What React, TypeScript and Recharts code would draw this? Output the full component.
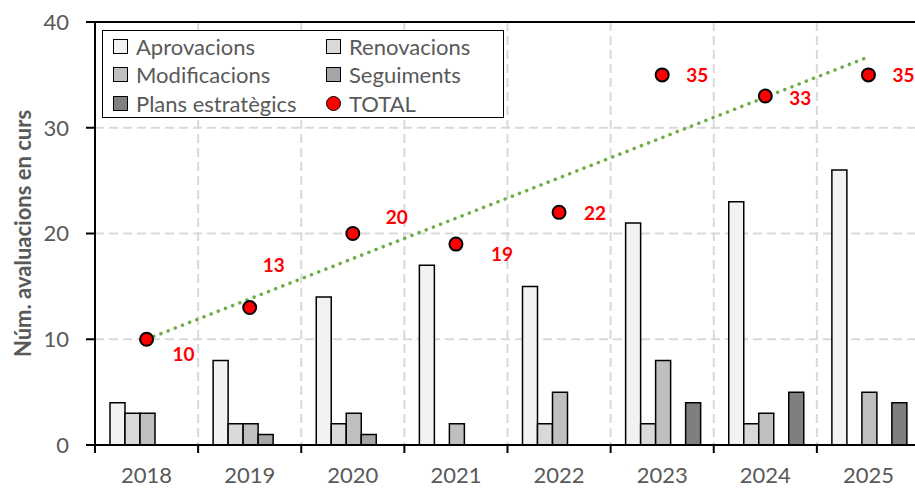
import {
  ComposedChart,
  Bar,
  Line,
  XAxis,
  YAxis,
  CartesianGrid,
  Legend,
  ReferenceLine,
} from 'recharts';

const years = ['2018', '2019', '2020', '2021', '2022', '2023', '2024', '2025'];
const aprovacions = [4, 8, 14, 17, 15, 21, 23, 26];
const renovacions = [3, 2, 2, 0, 2, 2, 2, 0];
const modificacions = [3, 2, 3, 2, 5, 8, 3, 5];
const seguiments = [0, 1, 1, 0, 0, 0, 0, 0];
const plansEstrategics = [0, 0, 0, 0, 0, 4, 5, 4];
const totals = [10, 13, 20, 19, 22, 35, 33, 35];
// linear trendline, first and last value
const trendEnds = [10, 36.7];
const yTicks = [0, 10, 20, 30, 40];

// hand placed data labels (pixel offsets from the point)
const labelDx = [37, 24, 44, 46, 36, 35, 35, 35];
const labelDy = [14, -43, -17, 9, 0, 0, 1, 0];

const FONT = 'Lato, "Open Sans", sans-serif';
const GREY_TEXT = '#595959';
const W = 921;
const H = 488;
const MARGIN = { top: 22, right: 1, bottom: 0, left: 0 };
const Y_AXIS_W = 95;
const X_AXIS_H = 43;
const PLOT_L = MARGIN.left + Y_AXIS_W;
const PLOT_W = W - PLOT_L - MARGIN.right;
const PLOT_B = H - MARGIN.bottom - X_AXIS_H;
const PLOT_T = MARGIN.top;
const BAND = PLOT_W / years.length;

const series = [
  { key: 'aprovacions', name: 'Aprovacions', color: '#f2f2f2' },
  { key: 'renovacions', name: 'Renovacions', color: '#d9d9d9' },
  { key: 'modificacions', name: 'Modificacions', color: '#bfbfbf' },
  { key: 'seguiments', name: 'Seguiments', color: '#a5a5a5' },
  { key: 'plans', name: 'Plans estratègics', color: '#7f7f7f' },
];

const data = years.map((year, i) => ({
  year,
  aprovacions: aprovacions[i],
  renovacions: renovacions[i],
  modificacions: modificacions[i],
  seguiments: seguiments[i],
  plans: plansEstrategics[i],
  total: totals[i],
  trend: i === 0 ? trendEnds[0] : i === years.length - 1 ? trendEnds[1] : null,
}));

const XTick = (props: any) => {
  const { x, payload, index } = props;
  const last = index === years.length - 1;
  return (
    <g>
      <line x1={x - BAND / 2} x2={x - BAND / 2} y1={PLOT_B} y2={PLOT_B + 8} stroke='#000' strokeWidth={2} />
      {last && (
        <line x1={x + BAND / 2} x2={x + BAND / 2} y1={PLOT_B} y2={PLOT_B + 8} stroke='#000' strokeWidth={2} />
      )}
      <text x={x} y={PLOT_B + 38} textAnchor='middle' fill={GREY_TEXT} fontSize={22} fontFamily={FONT}>
        {payload.value}
      </text>
    </g>
  );
};

const TotalDot = (props: any) => {
  const { cx, cy, index, value } = props;
  if (cx == null || cy == null) return <g />;
  return (
    <g>
      <circle cx={cx} cy={cy} r={6.5} fill='#ff0000' stroke='#000' strokeWidth={2} />
      <text
        x={cx + labelDx[index]}
        y={cy + labelDy[index]}
        textAnchor='middle'
        dominantBaseline='central'
        fill='#ff0000'
        fontWeight='bold'
        fontSize={19}
        fontFamily={FONT}
      >
        {value}
      </text>
    </g>
  );
};

const LegendBox = () => {
  const items = [...series.map((s) => ({ name: s.name, color: s.color, circle: false })), { name: 'TOTAL', color: '#ff0000', circle: true }];
  return (
    <div
      style={{
        position: 'relative',
        width: 402,
        height: 88,
        boxSizing: 'border-box',
        border: '1.5px solid #000',
        background: '#fff',
        fontFamily: FONT,
        fontSize: 22,
        color: GREY_TEXT,
      }}
    >
      {items.map((item, i) => {
        const col = i % 2;
        const row = Math.floor(i / 2);
        return (
          <div
            key={item.name}
            style={{
              position: 'absolute',
              left: 10 + col * 213,
              top: 1 + row * 28.5,
              height: 28,
              display: 'flex',
              alignItems: 'center',
              whiteSpace: 'nowrap',
            }}
          >
            <span
              style={{
                display: 'inline-block',
                width: 15,
                height: 15,
                boxSizing: 'border-box',
                border: '1.5px solid #000',
                borderRadius: item.circle ? '50%' : 0,
                background: item.color,
                marginRight: 8,
              }}
            />
            <span>{item.name}</span>
          </div>
        );
      })}
    </div>
  );
};

export default function App() {
  return (
    <div style={{ position: 'absolute', left: 0, top: 0, width: 915, height: 488, overflow: 'hidden', background: '#fff' }}>
      <ComposedChart width={W} height={H} data={data} margin={MARGIN} barCategoryGap={15} barGap={0}>
        <CartesianGrid
          stroke='#d9d9d9'
          strokeWidth={2}
          strokeDasharray='9 5'
          verticalCoordinatesGenerator={() => years.slice(1).map((_, i) => PLOT_L + (i + 1) * BAND)}
        />
        <XAxis
          dataKey='year'
          height={X_AXIS_H}
          interval={0}
          tickLine={false}
          axisLine={{ stroke: '#000', strokeWidth: 2 }}
          tick={<XTick />}
        />
        <YAxis
          width={Y_AXIS_W}
          domain={[0, 40]}
          ticks={yTicks}
          interval={0}
          tickSize={9}
          tickMargin={17}
          axisLine={{ stroke: '#000', strokeWidth: 2 }}
          tickLine={{ stroke: '#000', strokeWidth: 2 }}
          tick={{ fill: GREY_TEXT, fontSize: 22, fontFamily: FONT }}
          label={{
            content: () => (
              <text
                x={22}
                y={(PLOT_T + PLOT_B) / 2}
                transform={`rotate(-90 22 ${(PLOT_T + PLOT_B) / 2})`}
                textAnchor='middle'
                dominantBaseline='central'
                fill={GREY_TEXT}
                fontWeight='bold'
                fontSize={22}
                fontFamily={FONT}
              >
                Núm. avaluacions en curs
              </text>
            ),
          }}
        />
        <ReferenceLine y={40} stroke='#000' strokeWidth={2} />
        {series.map((s) => (
          <Bar
            key={s.key}
            dataKey={s.key}
            name={s.name}
            fill={s.color}
            stroke='#000'
            strokeWidth={1.5}
            isAnimationActive={false}
          />
        ))}
        <Line
          dataKey='total'
          name='TOTAL'
          stroke='none'
          dot={<TotalDot />}
          activeDot={false}
          isAnimationActive={false}
        />
        <Line
          dataKey='trend'
          type='linear'
          connectNulls
          stroke='#70ad47'
          strokeWidth={3.5}
          strokeDasharray='0.1 7.6'
          strokeLinecap='round'
          dot={false}
          activeDot={false}
          legendType='none'
          isAnimationActive={false}
        />
        <Legend
          layout='vertical'
          align='center'
          verticalAlign='middle'
          wrapperStyle={{ left: 102, top: 30, width: 402, height: 88 }}
          content={() => <LegendBox />}
        />
      </ComposedChart>
    </div>
  );
}
